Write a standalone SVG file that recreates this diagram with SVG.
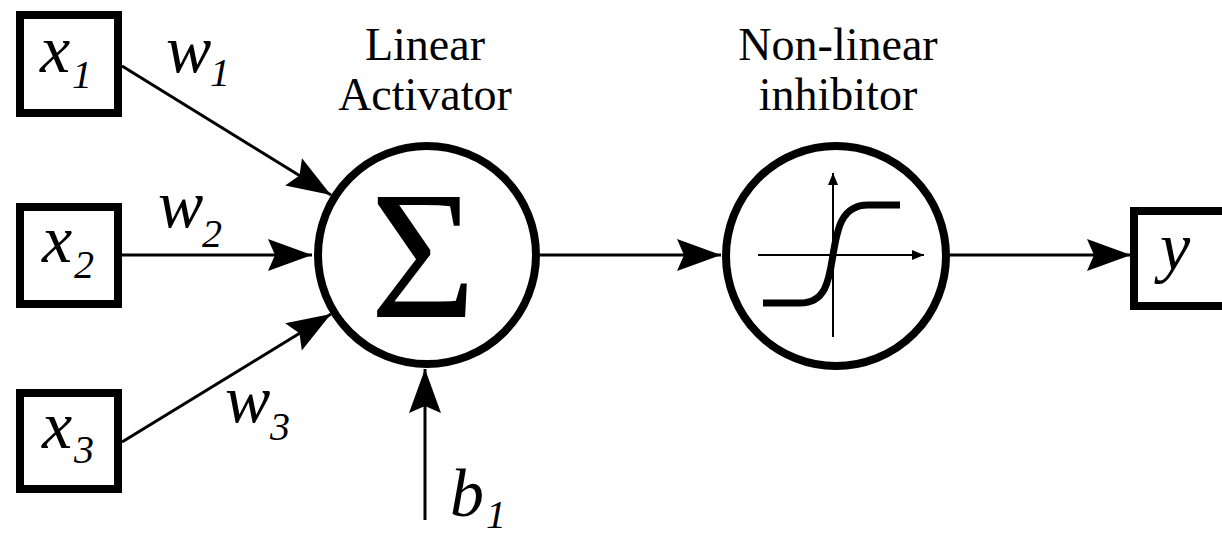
<svg xmlns="http://www.w3.org/2000/svg" width="1222" height="536" viewBox="0 0 1222 536">
<defs>
<marker id="ah" markerUnits="userSpaceOnUse" markerWidth="46" markerHeight="34" refX="44" refY="16" orient="auto" overflow="visible">
<path d="M0,0 L44,16 L0,32 L7,16 z" fill="#000"/>
</marker>
<marker id="sa" markerUnits="userSpaceOnUse" markerWidth="14" markerHeight="10" refX="12" refY="5" orient="auto" overflow="visible">
<path d="M0,0 L12,5 L0,10 z" fill="#000"/>
</marker>
</defs>
<rect width="1222" height="536" fill="#fff"/>
<g id="connectors" stroke="#000" stroke-width="3" fill="none">
<line x1="122" y1="66" x2="331" y2="195" marker-end="url(#ah)"/>
<line x1="122" y1="255" x2="312" y2="255" marker-end="url(#ah)"/>
<line x1="122" y1="442" x2="331" y2="314" marker-end="url(#ah)"/>
<line x1="425" y1="520" x2="425" y2="369" marker-end="url(#ah)"/>
<line x1="540" y1="255" x2="721" y2="255" marker-end="url(#ah)"/>
<line x1="950" y1="255" x2="1131" y2="255" marker-end="url(#ah)"/>
</g>
<g id="x1">
<rect x="20" y="15" width="98" height="98" fill="#fff" stroke="#000" stroke-width="8"/>
<text x="40" y="72" font-family="Liberation Serif" font-style="italic" font-size="68">x</text>
<text x="72" y="88" font-family="Liberation Serif" font-style="italic" font-size="40">1</text>
</g>
<g id="x2">
<rect x="20" y="207" width="98" height="97" fill="#fff" stroke="#000" stroke-width="8"/>
<text x="42" y="262" font-family="Liberation Serif" font-style="italic" font-size="68">x</text>
<text x="74" y="278" font-family="Liberation Serif" font-style="italic" font-size="40">2</text>
</g>
<g id="x3">
<rect x="20" y="393" width="98" height="96" fill="#fff" stroke="#000" stroke-width="8"/>
<text x="42" y="448" font-family="Liberation Serif" font-style="italic" font-size="68">x</text>
<text x="74" y="463" font-family="Liberation Serif" font-style="italic" font-size="40">3</text>
</g>
<g id="w-labels">
<text x="166" y="72" font-family="Liberation Serif" font-style="italic" font-size="68">w</text>
<text x="210" y="86" font-family="Liberation Serif" font-style="italic" font-size="40">1</text>
<text x="158" y="227" font-family="Liberation Serif" font-style="italic" font-size="68">w</text>
<text x="202" y="247" font-family="Liberation Serif" font-style="italic" font-size="40">2</text>
<text x="225" y="422" font-family="Liberation Serif" font-style="italic" font-size="68">w</text>
<text x="270" y="440" font-family="Liberation Serif" font-style="italic" font-size="40">3</text>
</g>
<g id="linear-activator">
<text x="425" y="60" font-family="Liberation Serif" font-size="46" text-anchor="middle">Linear</text>
<text x="425" y="110" font-family="Liberation Serif" font-size="46" text-anchor="middle">Activator</text>
<circle cx="427" cy="255" r="109" fill="#fff" stroke="#000" stroke-width="8"/>
<text x="423" y="317" font-family="Liberation Serif" font-size="182" text-anchor="middle">&#931;</text>
</g>
<g id="nonlinear-inhibitor">
<text x="838" y="60" font-family="Liberation Serif" font-size="46" text-anchor="middle">Non-linear</text>
<text x="838" y="110" font-family="Liberation Serif" font-size="46" text-anchor="middle">inhibitor</text>
<circle cx="836" cy="256" r="110" fill="#fff" stroke="#000" stroke-width="8"/>
<line x1="833" y1="337" x2="833" y2="173" stroke="#000" stroke-width="2" marker-end="url(#sa)"/>
<line x1="758" y1="255" x2="924" y2="255" stroke="#000" stroke-width="2" marker-end="url(#sa)"/>
<path d="M763,303 L800,303 C826,303 829,280 833,255 C837,230 841,205 868,205 L900,205" fill="none" stroke="#000" stroke-width="7"/>
</g>
<g id="y">
<rect x="1134" y="211" width="100" height="95" fill="#fff" stroke="#000" stroke-width="8"/>
<text x="1160" y="270" font-family="Liberation Serif" font-style="italic" font-size="68">y</text>
</g>
<g id="b1">
<text x="450" y="516" font-family="Liberation Serif" font-style="italic" font-size="68">b</text>
<text x="486" y="528" font-family="Liberation Serif" font-style="italic" font-size="40">1</text>
</g>
</svg>
